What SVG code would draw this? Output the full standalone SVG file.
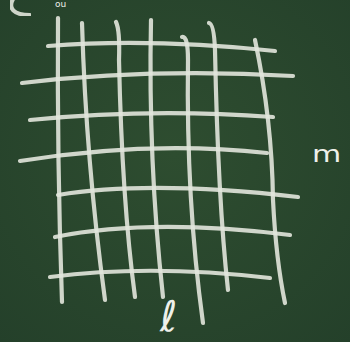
<svg xmlns="http://www.w3.org/2000/svg" width="350" height="342" viewBox="0 0 350 342">
<defs>
<filter id="chalk" x="-5%" y="-5%" width="110%" height="110%"><feGaussianBlur stdDeviation="0.5"/></filter>
<radialGradient id="bg" cx="50%" cy="45%" r="75%"><stop offset="0" stop-color="#2e4d30"/><stop offset="1" stop-color="#24402a"/></radialGradient>
</defs>
<style>
.c{fill:none;stroke:#e2e6dc;stroke-width:4.2;stroke-linecap:round;stroke-linejoin:round;opacity:0.9}
.t{fill:#eef0ea;font-family:"DejaVu Sans",sans-serif}
</style>
<rect width="350" height="342" fill="url(#bg)"/>
<g id="grid" filter="url(#chalk)">
<g id="verticals">
<path class="c" d="M58,18 Q57,160 62,302"/>
<path class="c" d="M82,23 Q86,160 105,300"/>
<path class="c" d="M116,22 Q120,30 119,60 Q122,200 135,297"/>
<path class="c" d="M151,20 Q148,160 163,297"/>
<path class="c" d="M182,37 Q188,36 188,60 Q186,200 203,323"/>
<path class="c" d="M209,23 Q214,24 215,50 Q218,200 228,290"/>
<path class="c" d="M255,40 Q272,120 273,200 Q276,260 285,303"/>
</g>
<g id="horizontals">
<path class="c" d="M48,46 Q150,38 275,51"/>
<path class="c" d="M22,83 Q150,68 293,76"/>
<path class="c" d="M30,120 Q150,108 273,117"/>
<path class="c" d="M20,161 Q150,140 267,153"/>
<path class="c" d="M58,195 Q150,180 298,197"/>
<path class="c" d="M55,237 Q150,218 290,235"/>
<path class="c" d="M50,277 Q150,264 270,278"/>
</g>
</g>
<path class="c" d="M13,-1 C8,8 13,15 30,15" filter="url(#chalk)"/>
<text class="t" x="55" y="7" font-size="9">ou</text>
<text class="t" x="312" y="162" font-size="30" font-family="Liberation Sans, sans-serif" transform="translate(312 162) scale(1 0.75) translate(-312 -162)">m</text>
<text class="t" x="160" y="331" font-size="42" font-family="DejaVu Serif, serif">ℓ</text>
</svg>
